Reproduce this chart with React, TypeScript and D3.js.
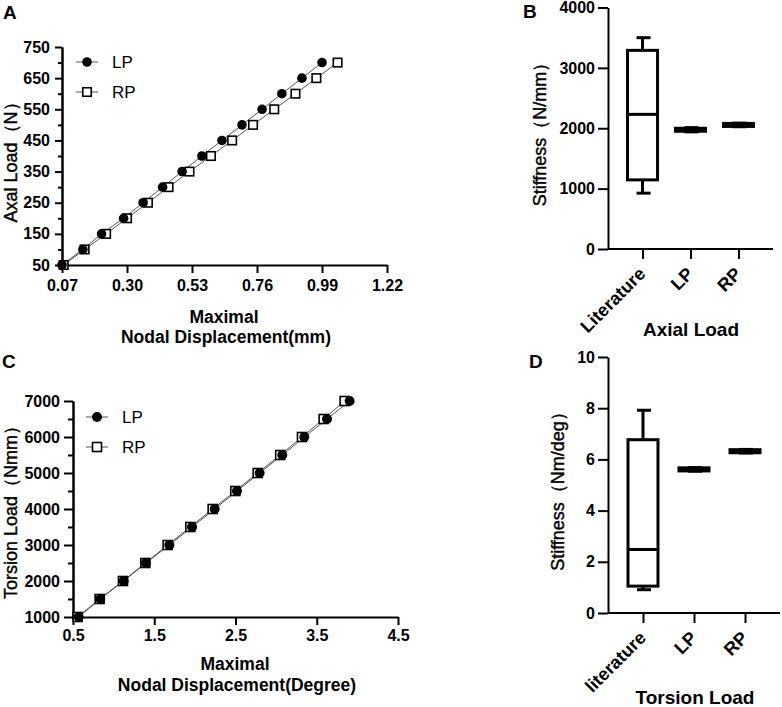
import React, { useEffect, useRef } from 'react';
import * as d3 from 'd3';

// Panel A: axial load vs displacement
const axialLoads = [50, 100, 150, 200, 250, 300, 350, 400, 450, 500, 550, 600, 650, 700];
const axialLP = [0.07, 0.144, 0.21, 0.288, 0.357, 0.426, 0.495, 0.565, 0.636, 0.707, 0.778, 0.848, 0.919, 0.99];
const axialRP = [0.076, 0.15, 0.226, 0.3, 0.374, 0.447, 0.521, 0.597, 0.672, 0.746, 0.821, 0.896, 0.97, 1.045];
const axialXTicks = [0.07, 0.3, 0.53, 0.76, 0.99, 1.22];
const axialYTicks = [50, 150, 250, 350, 450, 550, 650, 750];
const axialYMinor = [100, 200, 300, 400, 500, 600, 700];

// Panel C: torsion load vs displacement
const torsionLoads = [1000, 1500, 2000, 2500, 3000, 3500, 4000, 4500, 5000, 5500, 6000, 6500, 7000];
const torsionLP = [0.57, 0.836, 1.124, 1.398, 1.686, 1.965, 2.244, 2.518, 2.797, 3.076, 3.347, 3.626, 3.905];
const torsionRP = [0.557, 0.828, 1.115, 1.39, 1.665, 1.944, 2.219, 2.498, 2.773, 3.05, 3.318, 3.585, 3.843];
const torsionXTicks = [0.5, 1.5, 2.5, 3.5, 4.5];
const torsionYTicks = [1000, 2000, 3000, 4000, 5000, 6000, 7000];
const torsionYMinor = [1500, 2500, 3500, 4500, 5500, 6500];

// Panel B: axial stiffness boxes
const axialCats = ['Literature', 'LP', 'RP'];
const axialMin = [925, 1940, 2025];
const axialQ1 = [1145, 1950, 2030];
const axialMed = [2230, 1975, 2055];
const axialQ3 = [3290, 2000, 2080];
const axialMax = [3500, 2010, 2085];
const axialStiffTicks = [0, 1000, 2000, 3000, 4000];

// Panel D: torsion stiffness boxes
const torsionCats = ['literature', 'LP', 'RP'];
const torsionMin = [0.91, 5.54, 6.25];
const torsionQ1 = [1.05, 5.55, 6.26];
const torsionMed = [2.48, 5.61, 6.32];
const torsionQ3 = [6.77, 5.67, 6.38];
const torsionMax = [7.92, 5.68, 6.39];
const torsionStiffTicks = [0, 2, 4, 6, 8, 10];

const FONT = "Arial, 'Liberation Sans', sans-serif";

type Sel = d3.Selection<SVGGElement, unknown, null, undefined>;

function styleAxis(g: Sel, size = 16) {
  g.select('.domain').attr('stroke', '#000').attr('stroke-width', 2);
  g.selectAll('.tick line').attr('stroke', '#000').attr('stroke-width', 2);
  g.selectAll('.tick text')
    .attr('fill', '#000')
    .style('font-family', FONT)
    .style('font-size', `${size}px`)
    .style('font-weight', 'bold');
}

function yTitle(svg: any, text: string, x: number, y: number) {
  svg.append('text')
    .attr('transform', `translate(${x},${y}) rotate(-90)`)
    .attr('text-anchor', 'middle')
    .attr('dominant-baseline', 'central')
    .attr('stroke', '#000')
    .attr('stroke-width', 0.4)
    .style('font-family', FONT)
    .style('font-size', '18px')
    .text(text);
}

function label(svg: any, text: string, x: number, y: number, size: number, bold = true, anchor = 'middle') {
  svg.append('text')
    .attr('x', x)
    .attr('y', y)
    .attr('text-anchor', anchor)
    .style('font-family', FONT)
    .style('font-size', `${size}px`)
    .style('font-weight', bold ? 'bold' : 'normal')
    .text(text);
}

interface LinePanel {
  loads: number[];
  lp: number[];
  rp: number[];
  x: d3.ScaleLinear<number, number>;
  y: d3.ScaleLinear<number, number>;
  xTicks: number[];
  yTicks: number[];
  yMinor: number[];
  xFmt: string;
  yMajorLen: number;
  yMinorLen: number;
  yPad: number;
  xPad: number;
  r: number;
  sq: number;
  legendX: number;
  legendY: number;
}

function drawLinePanel(svg: any, p: LinePanel) {
  const [x0] = p.x.range();
  const [y0] = p.y.range();

  // minor y ticks
  const minor = svg.append('g').attr('transform', `translate(${x0},0)`)
    .call(d3.axisLeft(p.y).tickValues(p.yMinor).tickSize(p.yMinorLen).tickSizeOuter(0).tickFormat(() => ''));
  styleAxis(minor);

  const gy = svg.append('g').attr('transform', `translate(${x0},0)`)
    .call(d3.axisLeft(p.y).tickValues(p.yTicks).tickSize(p.yMajorLen).tickPadding(p.yPad).tickSizeOuter(0).tickFormat(d3.format('d')));
  styleAxis(gy);

  const gx = svg.append('g').attr('transform', `translate(0,${y0})`)
    .call(d3.axisBottom(p.x).tickValues(p.xTicks).tickSize(8).tickPadding(p.xPad).tickSizeOuter(0).tickFormat(d3.format(p.xFmt)));
  styleAxis(gx);

  const series = [
    { vals: p.lp, kind: 'circle' },
    { vals: p.rp, kind: 'square' },
  ];
  const line = d3.line<number>()
    .x((d) => p.x(d))
    .y((_, i) => p.y(p.loads[i]));

  series.forEach((s) => {
    svg.append('path')
      .attr('d', line(s.vals))
      .attr('fill', 'none')
      .attr('stroke', '#555')
      .attr('stroke-width', 1);
  });

  const drawMarker = (kind: string, cx: number, cy: number) => {
    if (kind === 'circle') {
      svg.append('circle').attr('cx', cx).attr('cy', cy).attr('r', p.r).attr('fill', '#000');
    } else {
      svg.append('rect')
        .attr('x', cx - p.sq / 2).attr('y', cy - p.sq / 2)
        .attr('width', p.sq).attr('height', p.sq)
        .attr('fill', '#fff').attr('stroke', '#000').attr('stroke-width', 1.6);
    }
  };

  // squares first, circles on top (as in the figure)
  p.loads.forEach((ld, i) => drawMarker('square', p.x(p.rp[i]), p.y(ld)));
  p.loads.forEach((ld, i) => drawMarker('circle', p.x(p.lp[i]), p.y(ld)));

  // legend
  const names = ['LP', 'RP'];
  series.forEach((s, i) => {
    const ly = p.legendY + i * 30;
    svg.append('line')
      .attr('x1', p.legendX - 11).attr('x2', p.legendX + 11)
      .attr('y1', ly).attr('y2', ly)
      .attr('stroke', '#555').attr('stroke-width', 1);
    drawMarker(s.kind, p.legendX, ly);
    label(svg, names[i], p.legendX + 25, ly + 6, 17, false, 'start');
  });
}

interface BoxPanel {
  cats: string[];
  min: number[];
  q1: number[];
  med: number[];
  q3: number[];
  max: number[];
  x: d3.ScalePoint<string>;
  y: d3.ScaleLinear<number, number>;
  yTicks: number[];
}

function drawBoxPanel(svg: any, p: BoxPanel) {
  const [x0] = p.x.range();
  const [y0] = p.y.range();

  const gy = svg.append('g').attr('transform', `translate(${x0},0)`)
    .call(d3.axisLeft(p.y).tickValues(p.yTicks).tickSize(10).tickPadding(3).tickSizeOuter(0).tickFormat(d3.format('d')));
  styleAxis(gy);

  const gx = svg.append('g').attr('transform', `translate(0,${y0})`)
    .call(d3.axisBottom(p.x).tickSize(10).tickSizeOuter(0).tickFormat(() => ''));
  styleAxis(gx);
  gx.select('.domain').attr('d', `M${x0},0H${p.x.range()[1]}`);

  const bw = 30;
  const cap = 14;
  p.cats.forEach((c, i) => {
    const cx = p.x(c)!;
    const g = svg.append('g').attr('stroke', '#000').attr('stroke-width', 3);
    g.append('line').attr('x1', cx).attr('x2', cx).attr('y1', p.y(p.q3[i])).attr('y2', p.y(p.max[i]));
    g.append('line').attr('x1', cx).attr('x2', cx).attr('y1', p.y(p.q1[i])).attr('y2', p.y(p.min[i]));
    g.append('line').attr('x1', cx - cap / 2 + 1).attr('x2', cx + cap / 2 + 1).attr('y1', p.y(p.max[i])).attr('y2', p.y(p.max[i]));
    g.append('line').attr('x1', cx - cap / 2 + 1).attr('x2', cx + cap / 2 + 1).attr('y1', p.y(p.min[i])).attr('y2', p.y(p.min[i]));
    g.append('rect')
      .attr('x', cx - bw / 2).attr('width', bw)
      .attr('y', p.y(p.q3[i])).attr('height', p.y(p.q1[i]) - p.y(p.q3[i]))
      .attr('fill', '#fff');
    g.append('line').attr('x1', cx - bw / 2).attr('x2', cx + bw / 2).attr('y1', p.y(p.med[i])).attr('y2', p.y(p.med[i]));

    svg.append('text')
      .attr('transform', `translate(${cx + 4},${y0 + 26}) rotate(-45)`)
      .attr('text-anchor', 'end')
      .style('font-family', FONT)
      .style('font-size', '18px')
      .style('font-weight', 'bold')
      .text(c);
  });
}

export default function App() {
  const ref = useRef<SVGSVGElement>(null);

  useEffect(() => {
    if (!ref.current) return;
    const svg = d3.select(ref.current);
    svg.selectAll('*').remove();

    svg.append('rect').attr('width', 782).attr('height', 707).attr('fill', '#fff');

    // A
    drawLinePanel(svg, {
      loads: axialLoads, lp: axialLP, rp: axialRP,
      x: d3.scaleLinear().domain([0.07, 1.22]).range([62, 387]),
      y: d3.scaleLinear().domain([50, 750]).range([265, 47]),
      xTicks: axialXTicks, yTicks: axialYTicks, yMinor: axialYMinor,
      xFmt: '.2f', yMajorLen: 7, yMinorLen: 4, yPad: 5, xPad: 7,
      r: 4.8, sq: 8.5, legendX: 87, legendY: 62,
    });
    label(svg, 'A', 3, 19, 19, true, 'start');
    yTitle(svg, 'Axal Load（N）', 11, 158);
    label(svg, 'Maximal', 224, 322.5, 17.5);
    label(svg, 'Nodal Displacement(mm)', 226, 343, 17.5);

    // C
    drawLinePanel(svg, {
      loads: torsionLoads, lp: torsionLP, rp: torsionRP,
      x: d3.scaleLinear().domain([0.5, 4.5]).range([73, 398]),
      y: d3.scaleLinear().domain([1000, 7000]).range([617, 401]),
      xTicks: torsionXTicks, yTicks: torsionYTicks, yMinor: torsionYMinor,
      xFmt: '.1f', yMajorLen: 9, yMinorLen: 5, yPad: 4, xPad: 5,
      r: 5, sq: 9, legendX: 97, legendY: 417,
    });
    label(svg, 'C', 2, 368, 19, true, 'start');
    yTitle(svg, 'Torsion Load（Nmm）', 11, 508);
    label(svg, 'Maximal', 235, 670, 17.5);
    label(svg, 'Nodal Displacement(Degree)', 237, 690.5, 17.5);

    // B
    drawBoxPanel(svg, {
      cats: axialCats, min: axialMin, q1: axialQ1, med: axialMed, q3: axialQ3, max: axialMax,
      x: d3.scalePoint<string>().domain(axialCats).range([608, 773]).padding(0.72),
      y: d3.scaleLinear().domain([0, 4000]).range([249, 7.5]),
      yTicks: axialStiffTicks,
    });
    label(svg, 'B', 523, 18, 19, true, 'start');
    yTitle(svg, 'Stiffness（N/mm）', 540, 130);
    label(svg, 'Axial Load', 691, 336, 19);

    // D
    drawBoxPanel(svg, {
      cats: torsionCats, min: torsionMin, q1: torsionQ1, med: torsionMed, q3: torsionQ3, max: torsionMax,
      x: d3.scalePoint<string>().domain(torsionCats).range([608, 780]).padding(0.686),
      y: d3.scaleLinear().domain([0, 10]).range([613, 357]),
      yTicks: torsionStiffTicks,
    });
    label(svg, 'D', 529, 368, 19, true, 'start');
    yTitle(svg, 'Stiffness（Nm/deg）', 558, 487);
    label(svg, 'Torsion Load', 695, 704, 19);
  }, []);

  return (
    <svg
      ref={ref}
      width={782}
      height={707}
      style={{ position: 'absolute', left: 0, top: 0 }}
    />
  );
}
